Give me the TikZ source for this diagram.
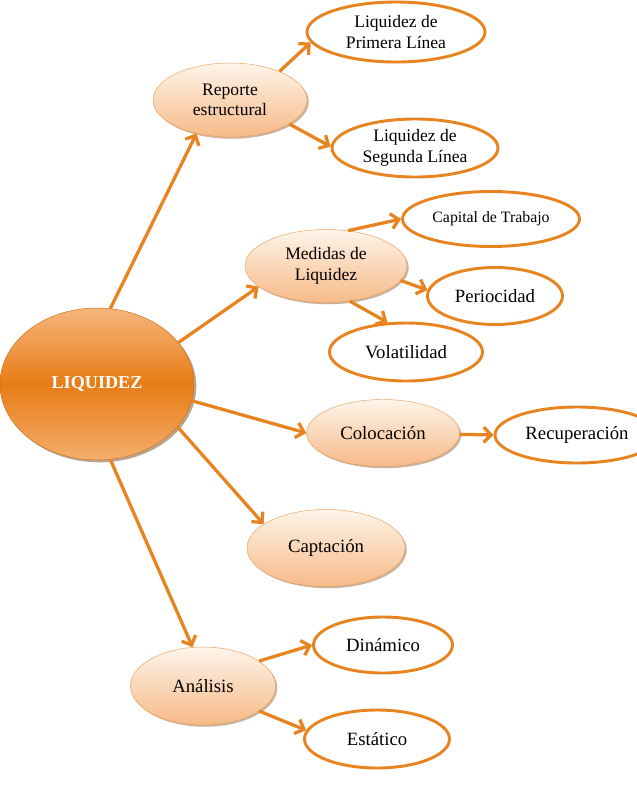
\documentclass[tikz,border=0pt]{standalone}
\usepackage{fontspec}
\setmainfont{Liberation Serif}
\usetikzlibrary{shapes.geometric,shadows,arrows.meta}
\definecolor{liqorange}{RGB}{232,132,32}
\definecolor{liqdark}{RGB}{232,124,22}
\definecolor{liqlight}{RGB}{246,182,124}
\definecolor{peachtop}{RGB}{254,244,234}
\definecolor{peachbot}{RGB}{247,186,136}
\definecolor{peachline}{RGB}{238,162,95}
\tikzset{
  wh/.style 2 args={minimum width=#1*0.03cm,minimum height=#2*0.03cm},
  bigtext/.style={font=\fontsize{16}{18}\selectfont},
  midtext/.style={font=\fontsize{15}{17.5}\selectfont},
  smalltext/.style={font=\fontsize{13.5}{16}\selectfont},
  root/.style={ellipse,inner sep=0pt,top color=liqlight,bottom color=liqlight!85!liqdark,middle color=liqdark,
    draw=liqdark!90!black,thin,text=white,font=\fontsize{15.5}{18}\selectfont\bfseries,
    drop shadow={shadow xshift=2pt,shadow yshift=-2pt,fill=brown!60!black,opacity=.5}},
  branch/.style={ellipse,inner sep=0pt,top color=peachtop,bottom color=peachbot,draw=peachline,thin,align=center,
    drop shadow={shadow xshift=1.5pt,shadow yshift=-1.5pt,fill=brown!70!black,opacity=.45}},
  leaf/.style={ellipse,inner sep=0pt,draw=liqorange,line width=2.5pt,fill=white,align=center},
  conn/.style={draw=liqorange,line width=2.8pt,-{Straight Barb[length=6.5pt,width=13pt]}}
}
\begin{document}
\begin{tikzpicture}[x=0.03cm,y=-0.03cm]
\useasboundingbox (0,0) rectangle (636,802);
\node[root,wh={194}{152}] (liq) at (97,384) {LIQUIDEZ};
\node[branch,midtext,wh={154}{74}] (rep) at (230,100) {Reporte\\estructural};
\node[leaf,midtext,wh={178}{60}] (pri) at (396,32) {Liquidez de\\Primera Línea};
\node[leaf,midtext,wh={166}{58}] (seg) at (415,148) {Liquidez de\\Segunda Línea};
\node[branch,midtext,wh={162}{73}] (med) at (326,266) {Medidas de\\Liquidez};
\node[leaf,smalltext,wh={177}{55}] (cap) at (491,219) {Capital de Trabajo};
\node[leaf,bigtext,wh={135}{57}] (per) at (495,296) {Periocidad};
\node[leaf,bigtext,wh={153}{58}] (vol) at (406,352) {Volatilidad};
\node[branch,bigtext,wh={153}{67}] (col) at (383,433) {Colocación};
\node[leaf,bigtext,wh={164}{56}] (rec) at (577,435) {Recuperación};
\node[branch,bigtext,wh={158}{77}] (capt) at (326,548) {Captación};
\node[branch,bigtext,wh={145}{78}] (ana) at (203,686) {Análisis};
\node[leaf,bigtext,wh={139}{56}] (din) at (383,645) {Dinámico};
\node[leaf,bigtext,wh={145}{58}] (est) at (377,739) {Estático};
\draw[conn] (liq.80) -- (rep.225);
\draw[conn] (liq.27) -- (med.197);
\draw[conn] (liq.-10) -- (col.180);
\draw[conn] (liq.-28) -- (capt.159);
\draw[conn] (liq.-80) -- (ana.105);
\draw[conn] (rep.30) -- (pri.187);
\draw[conn] (rep.-22) -- (seg.179);
\draw[conn] (med.58) -- (cap.180);
\draw[conn] (med.-11) -- (per.175);
\draw[conn] (med.-56) -- (vol.122);
\draw[conn] (col.-1) -- (rec.180);
\draw[conn] (ana.24) -- (din.180);
\draw[conn] (ana.-24) -- (est.173);
\end{tikzpicture}
\end{document}
